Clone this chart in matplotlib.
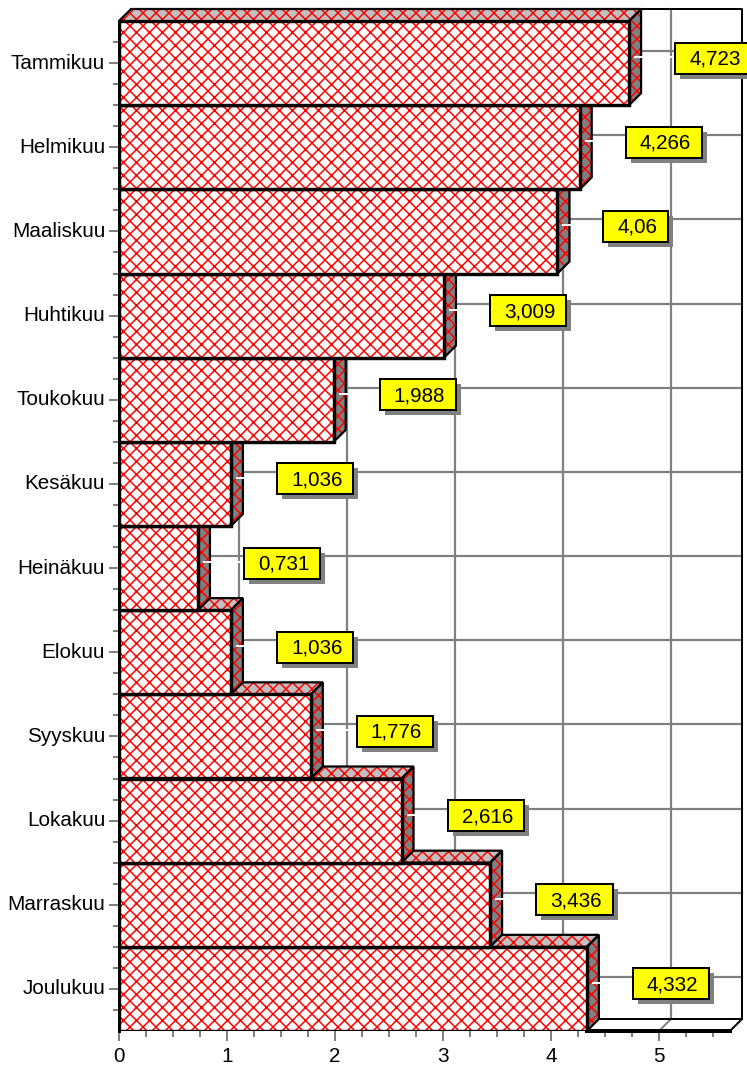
import numpy as np
import matplotlib
matplotlib.use('Agg')
import matplotlib.pyplot as plt
from matplotlib.patches import Polygon, Rectangle
from matplotlib.transforms import IdentityTransform

months = ['Tammikuu', 'Helmikuu', 'Maaliskuu', 'Huhtikuu', 'Toukokuu', 'Kesäkuu',
          'Heinäkuu', 'Elokuu', 'Syyskuu', 'Lokakuu', 'Marraskuu', 'Joulukuu']
values = [4.723, 4.266, 4.06, 3.009, 1.988, 1.036, 0.731, 1.036, 1.776, 2.616, 3.436, 4.332]
value_labels = ['4,723', '4,266', '4,06', '3,009', '1,988', '1,036',
                '0,731', '1,036', '1,776', '2,616', '3,436', '4,332']
x_ticks = [0, 1, 2, 3, 4, 5]

W, H, DPI = 747, 1066, 78
FS = 19
plt.rcParams['font.family'] = ['Liberation Sans', 'DejaVu Sans']
plt.rcParams['hatch.linewidth'] = 1.4


def lw(px):
    return px * 72 / DPI


fig = plt.figure(figsize=(W / DPI, H / DPI), dpi=DPI, facecolor='white')
ax = fig.add_axes([119 / W, 1 - 1031 / H, (730 - 119) / W, (1031 - 21) / H])

x_max = 611 / 108
ax.set_xlim(0, x_max)
ax.set_ylim(11.5, -0.5)
ys = np.arange(len(months))

# profundidad 3D en unidades de datos (12 px en cada eje)
dx = 12 / 108
dy = 12 / (1010 / 12)
top, bottom = -0.5, 11.5

# piso y pared de fondo
ax.add_patch(Polygon([(0, bottom), (x_max, bottom), (x_max + dx, bottom - dy), (dx, bottom - dy)],
                     closed=True, fc='white', ec='none', clip_on=False, zorder=1))
for v in x_ticks[1:]:
    ax.plot([v + dx, v + dx], [top - dy, bottom - dy], color='#808080', lw=lw(2.2), clip_on=False, zorder=1.5)
ax.plot([5, 5 + dx], [bottom, bottom - dy], color='#808080', lw=lw(2), clip_on=False, zorder=1.5)
for y in ys:
    ax.plot([dx, x_max + dx], [y - dy, y - dy], color='#808080', lw=lw(2.2), clip_on=False, zorder=1.5)
ax.plot([dx, x_max + dx, x_max + dx, dx], [top - dy, top - dy, bottom - dy, bottom - dy],
        color='black', lw=lw(2), clip_on=False, zorder=2)
ax.plot([x_max, x_max + dx], [bottom, bottom - dy], color='black', lw=lw(2), clip_on=False, zorder=2)
ax.plot([values[-1], x_max], [bottom, bottom], color='black', lw=lw(4), clip_on=False, zorder=2)

# barras de abajo hacia arriba para que tapen la cara superior de la siguiente
z = 3
for i in range(len(months) - 1, -1, -1):
    v, y = values[i], ys[i]
    y0, y1 = y - 0.5, y + 0.5
    top_face = [(0, y0), (dx, y0 - dy), (v + dx, y0 - dy), (v, y0)]
    side_face = [(v, y0), (v + dx, y0 - dy), (v + dx, y1 - dy), (v, y1)]
    for pts, col in ((top_face, '#c0c0c0'), (side_face, '#808080')):
        ax.add_patch(Polygon(pts, closed=True, fc=col, ec='red', hatch='xx', lw=0, clip_on=False, zorder=z))
        ax.add_patch(Polygon(pts, closed=True, fill=False, ec='black', lw=lw(2.2), clip_on=False,
                             joinstyle='miter', zorder=z + 0.1))
    ax.barh(y, v, height=1.0, color='white', edgecolor='red', hatch='xx', linewidth=0, zorder=z + 0.2)
    ax.barh(y, v, height=1.0, fill=False, edgecolor='black', linewidth=lw(3.4), zorder=z + 0.3)
    z += 1

# ejes
for s in ['top', 'right', 'bottom']:
    ax.spines[s].set_visible(False)
ax.spines['left'].set_color('black')
ax.spines['left'].set_linewidth(lw(3))
ax.spines['left'].set_zorder(30)

ax.set_xticks(x_ticks)
ax.set_xticks([t for t in np.arange(0, 5.75, 0.25) if t not in x_ticks], minor=True)
ax.set_yticks(ys)
ax.set_yticklabels(months, va='center')
ax.set_yticks([t for t in np.arange(-0.25, 11.5, 0.25) if t not in list(ys)], minor=True)
ax.tick_params(axis='both', which='major', length=lw(10), width=lw(2), color='#808080', labelsize=FS)
ax.tick_params(axis='both', which='minor', length=lw(6), width=lw(2), color='#808080')
ax.tick_params(axis='x', which='major', pad=lw(6))
ax.tick_params(axis='y', which='major', pad=lw(4))

# etiquetas amarillas
fig.canvas.draw()
renderer = fig.canvas.get_renderer()
for i, (v, y, lab) in enumerate(zip(values, ys, value_labels)):
    ax.plot([v + dx / 2, v + 46 / 108], [y - dy / 2, y - dy / 2], color='white', lw=lw(2),
            clip_on=False, zorder=40)
    px, py = ax.transData.transform((v + 46 / 108, y))
    box_h = 31
    cy = py + 5
    txt = fig.text(px + 14, cy - 1, lab, transform=IdentityTransform(), ha='left', va='center',
                   fontsize=FS, color='black', zorder=44)
    box_w = txt.get_window_extent(renderer).width + 25
    fig.add_artist(Rectangle((px + 5, cy - box_h / 2 - 5), box_w, box_h, transform=IdentityTransform(),
                             fc='#808080', ec='none', zorder=41))
    fig.add_artist(Rectangle((px, cy - box_h / 2), box_w, box_h, transform=IdentityTransform(),
                             fc='#ffff00', ec='black', lw=lw(2), zorder=42))

fig.savefig('out.png', dpi=DPI)
